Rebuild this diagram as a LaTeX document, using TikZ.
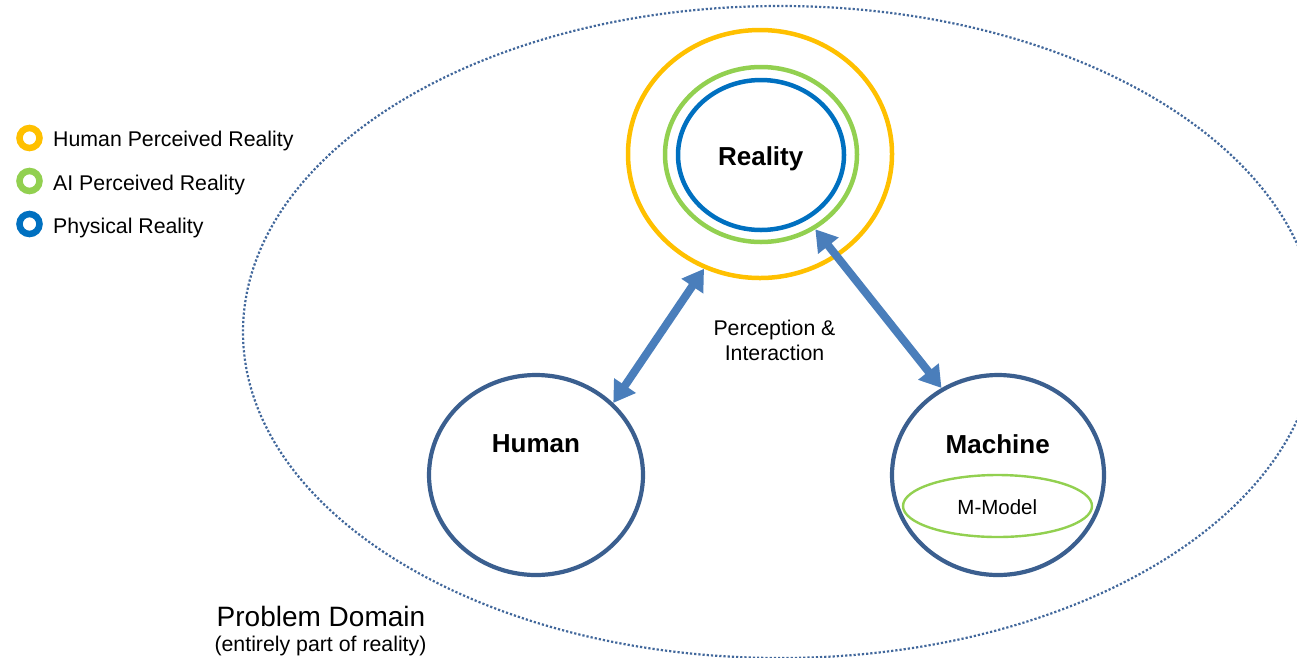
\documentclass[tikz,border=0pt]{standalone}
\usepackage{fontspec}
\setmainfont{Liberation Sans}
\usetikzlibrary{shapes.geometric,arrows.meta}
\definecolor{cyel}{HTML}{FFC000}
\definecolor{cgrn}{HTML}{92D050}
\definecolor{cblu}{HTML}{0070C0}
\definecolor{cdark}{HTML}{3B5F8F}
\definecolor{carr}{HTML}{4A7EBB}
\definecolor{cdot}{HTML}{41679B}
\begin{document}
\begin{tikzpicture}[x=1pt,y=-1pt,
  ring/.style={ellipse, draw, inner sep=0pt},
  legring/.style={circle, draw, line width=6.5pt, minimum size=20pt, inner sep=0pt},
  lbl/.style={inner sep=0pt, anchor=base},
  leglbl/.style={inner sep=0pt, anchor=base west, font=\fontsize{21.3}{25}\selectfont},
  bigbold/.style={font=\fontsize{26}{30}\selectfont\bfseries},
  midtxt/.style={font=\fontsize{21.3}{25}\selectfont},
  smalltxt/.style={font=\fontsize{20.5}{24}\selectfont},
  conn/.style={draw=carr, line width=8pt,
    {Triangle[length=21pt,width=25pt]}-{Triangle[length=21pt,width=25pt]}}]
\useasboundingbox (0,0) rectangle (1297,657);
\clip (0,0) rectangle (1297,657);

% problem domain
\node[ellipse, draw=cdot, line width=2.2pt, dash pattern=on 2.2pt off 2pt,
  minimum width=1074pt, minimum height=652pt, inner sep=0pt] (dom) at (780,332) {};
\node[lbl, font=\fontsize{28}{32}\selectfont] (domt) at (321,626.7) {Problem Domain};
\node[lbl, midtxt] (doms) at (320.5,651.7) {(entirely part of reality)};

% legend
\node[legring, draw=cyel] (lg1) at (29.5,138) {};
\node[legring, draw=cgrn] (lg2) at (29.5,181) {};
\node[legring, draw=cblu] (lg3) at (29.5,224) {};
\node[leglbl] (lt1) at (53,146) {Human Perceived Reality};
\node[leglbl] (lt2) at (53,190) {AI Perceived Reality};
\node[leglbl] (lt3) at (53,233.3) {Physical Reality};

% reality
\node[ring, draw=cyel, line width=4.5pt, minimum width=264pt, minimum height=248pt] (yel) at (760,154) {};
\node[ring, draw=cgrn, line width=4.5pt, minimum width=192pt, minimum height=175pt] (grn) at (761,154.5) {};
\node[ring, draw=cblu, line width=4.5pt, minimum width=166pt, minimum height=150pt] (blu) at (761,155) {};
\node[lbl, bigbold] (realt) at (760.7,165) {Reality};

% human & machine
\node[ring, draw=cdark, line width=4.2pt, minimum width=214pt, minimum height=200pt] (hum) at (536,475) {};
\node[lbl, bigbold] (humt) at (536,452.7) {Human};
\node[ring, draw=cdark, line width=4.2pt, minimum width=212pt, minimum height=200pt] (mac) at (998,475) {};
\node[lbl, bigbold] (mact) at (997.7,453.3) {Machine};
\node[ring, draw=cgrn, line width=2.4pt, minimum width=189pt, minimum height=62pt] (mm) at (997.5,506) {};
\node[lbl, smalltxt] (mmt) at (997.3,514) {M-Model};

% connectors
\draw[conn] (hum.43.5) -- (yel.-116.8);
\draw[conn] (mac.123.7) -- (grn.-54.4);
\node[lbl, midtxt] (pi1) at (774.5,335) {Perception \&};
\node[lbl, midtxt] (pi2) at (774.5,360) {Interaction};
\end{tikzpicture}
\end{document}
